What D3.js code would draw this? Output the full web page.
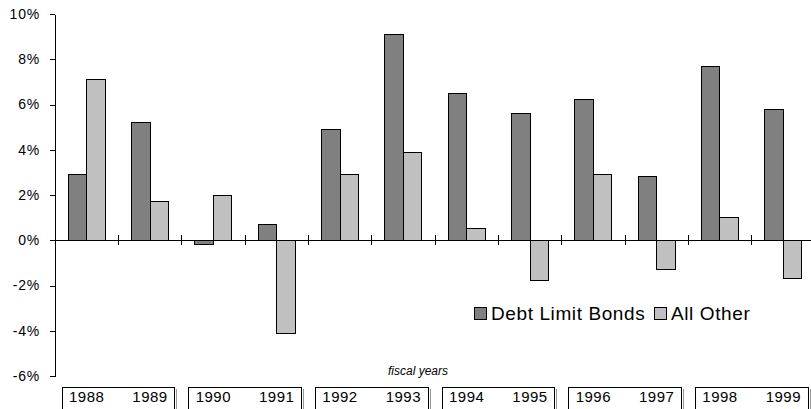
<!DOCTYPE html>
<html>
<head>
<meta charset="utf-8">
<script src="https://cdn.jsdelivr.net/npm/d3@7"></script>
<style>
  html, body { margin: 0; padding: 0; background: #fff; }
  svg { display: block; font-family: Arial, "Liberation Sans", sans-serif; }
</style>
</head>
<body>
<svg id="chart" width="811" height="409"></svg>
<script>
// Fiscal years and the two return series (percent)
const years = ["1988","1989","1990","1991","1992","1993","1994","1995","1996","1997","1998","1999"];
const debtLimitBonds = [2.9, 5.2, -0.2, 0.7, 4.9, 9.1, 6.5, 5.6, 6.2, 2.8, 7.7, 5.8];
const allOther       = [7.1, 1.7, 2.0, -4.1, 2.9, 3.9, 0.5, -1.8, 2.9, -1.3, 1.0, -1.7];
const seriesNames = ["Debt Limit Bonds", "All Other"];
const seriesColors = ["#808080", "#c0c0c0"];
const yTicks = [-6, -4, -2, 0, 2, 4, 6, 8, 10];
const xTitle = "fiscal years";

const svg = d3.select("#chart");

const plotLeft = 55, plotRight = 815, plotTop = 14, plotBottom = 376;

const y = d3.scaleLinear().domain([-6, 10]).range([plotBottom, plotTop]);
const x0 = d3.scaleBand().domain(years).range([plotLeft, plotRight]).padding(0);
const x1 = d3.scaleBand().domain(seriesNames).range([0, x0.bandwidth()])
  .paddingInner(0).paddingOuter(0.71);

const rows = years.map((yr, i) => ({ year: yr, values: [debtLimitBonds[i], allOther[i]] }));

// Bars
const groups = svg.append("g").selectAll("g").data(rows).join("g")
  .attr("transform", d => `translate(${x0(d.year)},0)`);
groups.selectAll("rect")
  .data(d => d.values.map((v, k) => ({ v, k })))
  .join("rect")
  .attr("x", d => x1(seriesNames[d.k]))
  .attr("width", x1.bandwidth())
  .attr("y", d => y(Math.max(0, d.v)))
  .attr("height", d => Math.abs(y(d.v) - y(0)))
  .attr("fill", d => seriesColors[d.k])
  .attr("stroke", "#000")
  .attr("stroke-width", 1)
  .attr("shape-rendering", "crispEdges");

// Y axis
const yAxis = d3.axisLeft(y).tickValues(yTicks).tickSize(5).tickSizeOuter(0)
  .tickFormat(d => d + "%");
const gy = svg.append("g").attr("transform", `translate(${plotLeft},0)`).call(yAxis);
gy.selectAll("path, line").attr("stroke", "#000").attr("shape-rendering", "crispEdges");
gy.selectAll("text").attr("font-size", 14).attr("fill", "#000")
  .attr("letter-spacing", "0.8px").attr("x", -15);

// Zero line with category separator ticks
svg.append("line")
  .attr("x1", plotLeft).attr("x2", plotRight)
  .attr("y1", y(0)).attr("y2", y(0))
  .attr("stroke", "#000").attr("shape-rendering", "crispEdges");
svg.append("g").selectAll("line").data(years.slice(1)).join("line")
  .attr("x1", d => x0(d)).attr("x2", d => x0(d))
  .attr("y1", y(0) - 5).attr("y2", y(0) + 5)
  .attr("stroke", "#000").attr("shape-rendering", "crispEdges");

// Axis title
svg.append("text")
  .attr("x", 418).attr("y", 375)
  .attr("text-anchor", "middle")
  .attr("font-size", 12).attr("font-style", "italic")
  .text(xTitle);

// Paired year boxes
const pairs = d3.range(0, years.length, 2);
svg.append("g").selectAll("rect").data(pairs).join("rect")
  .attr("x", i => x0(years[i]) + 7)
  .attr("width", x0.bandwidth() * 2 - 14)
  .attr("y", 387).attr("height", 40)
  .attr("fill", "none").attr("stroke", "#000")
  .attr("shape-rendering", "crispEdges");
svg.append("g").selectAll("line").data(pairs).join("line")
  .attr("x1", i => x0(years[i]) + x0.bandwidth() * 2 - 5)
  .attr("x2", i => x0(years[i]) + x0.bandwidth() * 2 - 5)
  .attr("y1", 389).attr("y2", 409)
  .attr("stroke", "#999").attr("shape-rendering", "crispEdges");

// Year labels
svg.append("g").selectAll("text").data(years).join("text")
  .attr("x", d => x0(d) + x0.bandwidth() / 2)
  .attr("y", 402)
  .attr("text-anchor", "middle")
  .attr("font-size", 15)
  .attr("letter-spacing", "0.5px")
  .text(d => d);

// Legend
const legend = svg.append("g").attr("transform", "translate(474,307)");
const legendX = [0, 180];
seriesNames.forEach((name, k) => {
  const g = legend.append("g").attr("transform", `translate(${legendX[k]},0)`);
  g.append("rect").attr("width", 12).attr("height", 12)
    .attr("fill", seriesColors[k]).attr("stroke", "#000")
    .attr("shape-rendering", "crispEdges");
  g.append("text").attr("x", 17).attr("y", 13)
    .attr("font-size", 19).attr("letter-spacing", "0.6px")
    .text(name);
});
</script>
</body>
</html>
